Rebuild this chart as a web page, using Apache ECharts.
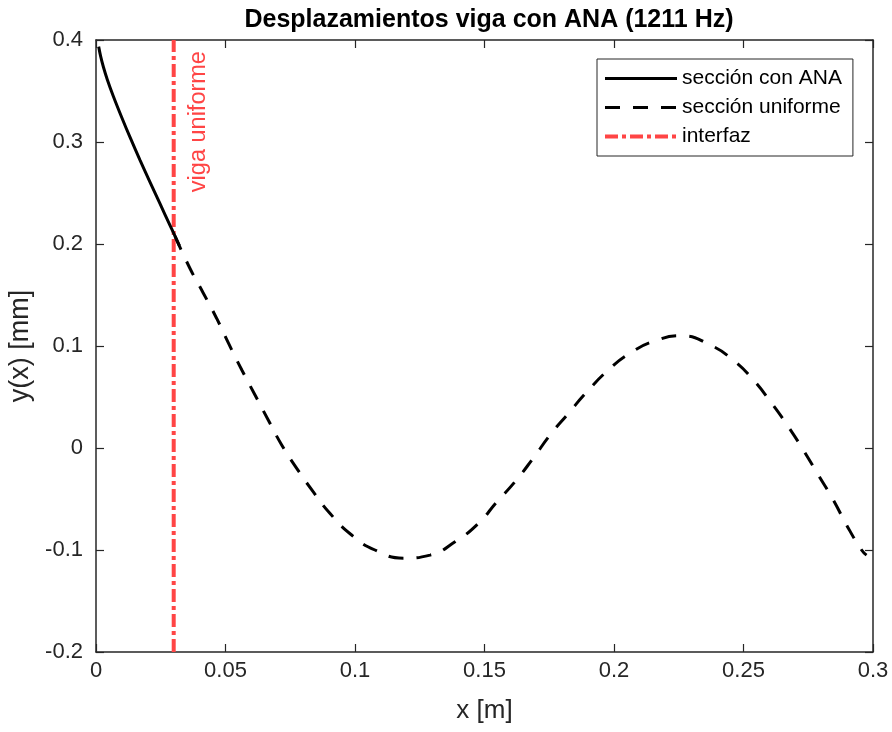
<!DOCTYPE html>
<html>
<head>
<meta charset="utf-8">
<script src="https://cdn.jsdelivr.net/npm/echarts@6/dist/echarts.min.js"></script>
<style>html,body{margin:0;padding:0;background:#fff}#c{width:892px;height:732px}</style>
</head>
<body>
<div id="c"></div>
<script>
// Data
const anaX = [0.00103,0.0018,0.00283,0.00438,0.00669,0.00991,0.01313,0.01699,0.02085,0.02471,0.02857,0.0305,0.0322];
const anaY = [0.3935,0.3839,0.3738,0.3611,0.3449,0.3243,0.3047,0.2823,0.2607,0.2395,0.2183,0.2077,0.1983];
const uniX = [0.0305,0.0363,0.0414,0.0466,0.0511,0.0563,0.0614,0.0665,0.0717,0.0775,0.0839,0.0903,0.0987,0.1077,0.1187,0.129,0.1386,0.1476,0.1547,0.1618,0.1688,0.1753,0.1824,0.1895,0.1978,0.2062,0.2158,0.2261,0.2371,0.2461,0.2538,0.2609,0.2673,0.2731,0.2789,0.2847,0.2898,0.2956,0.2975];
const uniY = [0.2077,0.176,0.152,0.127,0.103,0.0765,0.052,0.0275,0.003,-0.020,-0.043,-0.064,-0.0853,-0.100,-0.108,-0.105,-0.092,-0.074,-0.053,-0.033,-0.010,0.0127,0.034,0.055,0.0765,0.093,0.105,0.110,0.101,0.086,0.0667,0.0438,0.0209,-0.002,-0.0265,-0.051,-0.0755,-0.100,-0.105];
const interfaceX = 0.03;
const seriesNames = ['sección con ANA','sección uniforme','interfaz'];
const titleText = 'Desplazamientos viga con ANA (1211 Hz)';
const xName = 'x [m]';
const yName = 'y(x) [mm]';
const annotation = 'viga uniforme';

const FONT = '"Liberation Sans", Arial, Helvetica, sans-serif';
const AX = '#262626';
const RED = '#ff4545';
const zip = (a, b) => a.map((v, i) => [v, b[i]]);
const fmt = v => String(+(+v).toFixed(3));

const chart = echarts.init(document.getElementById('c'), null, {renderer: 'canvas'});
const axisCommon = {
  axisLine: {show: true, onZero: false, lineStyle: {color: AX, width: 1.5}},
  axisTick: {show: true, inside: true, length: 8, lineStyle: {color: AX, width: 1.2}},
  splitLine: {show: false}
};
const legendWidths = [3, 3, 4];
const option = {
  backgroundColor: '#fff',
  animation: false,
  title: {
    text: titleText, left: 484, top: 3, textAlign: 'center',
    textStyle: {fontFamily: FONT, fontWeight: 'bold', fontSize: 25, color: '#000'}
  },
  grid: {left: 96, right: 19, top: 40, bottom: 80, containLabel: false, outerBoundsMode: 'none'},
  legend: {
    orient: 'vertical', left: 597, top: 59,
    padding: [9, 11, 9, 6], itemGap: 8, itemWidth: 72, itemHeight: 14,
    borderColor: AX, borderWidth: 1, backgroundColor: '#fff',
    itemStyle: {opacity: 0, borderWidth: 0},
    textStyle: {fontFamily: FONT, fontSize: 21, color: '#000'},
    data: seriesNames.map((n, i) => ({name: n, lineStyle: {width: legendWidths[i]}}))
  },
  xAxis: [
    Object.assign({}, axisCommon, {
      type: 'value', min: 0, max: 0.3, interval: 0.05, position: 'bottom',
      name: xName, nameLocation: 'middle', nameGap: 46,
      nameTextStyle: {fontFamily: FONT, fontSize: 26, color: AX},
      axisLabel: {fontFamily: FONT, fontSize: 22, color: AX, margin: 8, formatter: fmt}
    }),
    Object.assign({}, axisCommon, {
      type: 'value', min: 0, max: 0.3, interval: 0.05, position: 'top',
      axisLabel: {show: false}
    })
  ],
  yAxis: [
    Object.assign({}, axisCommon, {
      type: 'value', min: -0.2, max: 0.4, interval: 0.1, position: 'left',
      name: yName, nameLocation: 'middle', nameGap: 60,
      nameTextStyle: {fontFamily: FONT, fontSize: 27, color: AX},
      axisLabel: {fontFamily: FONT, fontSize: 22, color: AX, margin: 13, formatter: fmt}
    }),
    Object.assign({}, axisCommon, {
      type: 'value', min: -0.2, max: 0.4, interval: 0.1, position: 'right',
      axisLabel: {show: false}
    })
  ],
  series: [
    {
      name: seriesNames[0], type: 'line', data: zip(anaX, anaY), smooth: 0.35,
      symbol: 'none', lineStyle: {color: '#000', width: 3, type: 'solid'}, itemStyle: {color: '#000'}, z: 3
    },
    {
      name: seriesNames[1], type: 'line', data: zip(uniX, uniY), smooth: true,
      symbol: 'none', lineStyle: {color: '#000', width: 3, type: [15, 13]}, itemStyle: {color: '#000'}, z: 3
    },
    {
      name: seriesNames[2], type: 'line', data: [[interfaceX, -0.2], [interfaceX, 0.4]],
      symbol: 'none', lineStyle: {color: RED, width: 4, type: [13, 4, 4, 4]}, itemStyle: {color: RED}, z: 2
    }
  ]
};
chart.setOption(option);
const p = chart.convertToPixel({gridIndex: 0}, [0.0394, 0.32]);
chart.setOption({
  graphic: [{
    type: 'text', x: p[0], y: p[1], rotation: Math.PI / 2, z: 10,
    style: {text: annotation, fill: RED, font: '23.5px ' + FONT, align: 'center', verticalAlign: 'middle'}
  }]
});
</script>
</body>
</html>
